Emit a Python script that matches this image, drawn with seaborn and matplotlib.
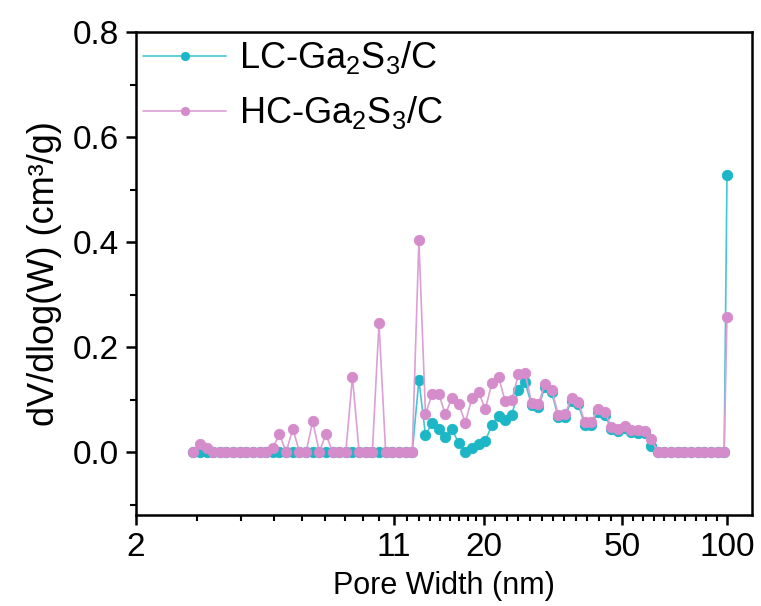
import numpy as np
import pandas as pd
import matplotlib
matplotlib.use("Agg")
import matplotlib.pyplot as plt
import seaborn as sns
from matplotlib.ticker import FixedLocator, FixedFormatter, NullFormatter

# ---------------- data ----------------
pore_width = [2.92, 3.05, 3.19, 3.33, 3.48, 3.64, 3.80, 3.97, 4.15, 4.34,
              4.53, 4.74, 4.95, 5.17, 5.40, 5.65, 5.90, 6.17, 6.44, 6.73,
              7.03, 7.35, 7.68, 8.02, 8.38, 8.76, 9.15, 9.56, 9.99, 10.44,
              10.91, 11.40, 11.92, 12.45, 13.01, 13.59, 14.21, 14.84, 15.50, 16.20,
              16.93, 17.69, 18.49, 19.32, 20.18, 21.09, 22.04, 23.03, 24.06, 25.14,
              26.27, 27.45, 28.69, 29.98, 31.32, 32.73, 34.20, 35.74, 37.34, 39.02,
              40.77, 42.60, 44.52, 46.51, 48.61, 50.79, 53.07, 55.46, 57.95, 60.56,
              63.28, 66.12, 69.09, 72.19, 75.43, 78.83, 82.37, 86.08, 89.93, 93.93,
              98.15, 100.0]

lc_values = [0, 0, 0, 0, 0, 0, 0, 0, 0, 0,
             0, 0, 0, 0, 0, 0, 0, 0, 0, 0,
             0, 0, 0, 0, 0, 0, 0, 0, 0, 0,
             0, 0, 0, 0, 0.137, 0.032, 0.056, 0.043, 0.029, 0.043,
             0.017, 0.000, 0.008, 0.015, 0.021, 0.051, 0.069, 0.061, 0.070, 0.119,
             0.133, 0.089, 0.086, 0.124, 0.114, 0.066, 0.067, 0.098, 0.091, 0.052,
             0.052, 0.077, 0.071, 0.044, 0.040, 0.046, 0.038, 0.037, 0.036, 0.012,
             0, 0, 0, 0, 0, 0, 0, 0, 0, 0,
             0, 0.527]

hc_values = [0, 0.015, 0.008, 0, 0, 0, 0, 0, 0, 0,
             0, 0, 0.008, 0.034, 0, 0.044, 0, 0, 0.059, 0,
             0.034, 0, 0, 0, 0.143, 0, 0, 0, 0.245, 0,
             0, 0, 0, 0, 0.403, 0.072, 0.111, 0.110, 0.072, 0.103,
             0.092, 0.056, 0.103, 0.115, 0.081, 0.131, 0.143, 0.097, 0.099, 0.148,
             0.150, 0.094, 0.091, 0.130, 0.119, 0.071, 0.072, 0.103, 0.096, 0.057,
             0.057, 0.082, 0.076, 0.048, 0.044, 0.050, 0.042, 0.041, 0.040, 0.025,
             0, 0, 0, 0, 0, 0, 0, 0, 0, 0,
             0, 0.258]

series_names = ["LC-Ga$_2$S$_3$/C", "HC-Ga$_2$S$_3$/C"]

x_major_ticks = [2, 11, 20, 50, 100]
x_major_labels = ["2", "11", "20", "50", "100"]
x_minor_ticks = [3, 4, 5, 6, 7, 8, 9, 10,
                 12, 13, 14, 15, 16, 17, 18, 19,
                 21.6, 23.3, 25.1, 27.1, 29.3, 31.6, 34.1, 36.8, 39.7, 42.9, 46.3,
                 53.6, 57.4, 61.6, 66.0, 70.7, 75.8, 81.2, 87.1, 93.3]
y_major_ticks = [0.0, 0.2, 0.4, 0.6, 0.8]
y_major_labels = ["0.0", "0.2", "0.4", "0.6", "0.8"]
y_minor_ticks = [-0.1, 0.1, 0.3, 0.5, 0.7]

# ---------------- style ----------------
sns.set_style("ticks")
plt.rcParams["font.family"] = ["Liberation Sans", "DejaVu Sans"]
plt.rcParams["mathtext.fontset"] = "custom"
plt.rcParams["mathtext.rm"] = "Liberation Sans"
plt.rcParams["mathtext.it"] = "Liberation Sans"
plt.rcParams["text.color"] = "black"
plt.rcParams["axes.labelcolor"] = "black"
plt.rcParams["xtick.color"] = "black"
plt.rcParams["ytick.color"] = "black"

lc_marker = "#1cb6c6"
lc_line = "#45c6d4"
hc_marker = "#d48ccb"
hc_line = "#dc9fd6"

fig = plt.figure(figsize=(7.61, 6.06), dpi=100)
ax = fig.add_axes([136 / 761, 1 - 515 / 606, (752 - 136) / 761, (515 - 32) / 606])

df = pd.DataFrame({
    "width": pore_width * 2,
    "value": lc_values + hc_values,
    "sample": [series_names[0]] * len(pore_width) + [series_names[1]] * len(pore_width),
})

for name, mcol, lcol in [(series_names[0], lc_marker, lc_line),
                         (series_names[1], hc_marker, hc_line)]:
    sub = df[df["sample"] == name]
    sns.lineplot(data=sub, x="width", y="value", ax=ax, sort=False, estimator=None,
                 color=lcol, linewidth=1.2, marker="o", markersize=7.5,
                 markerfacecolor=mcol, markeredgecolor=mcol, markeredgewidth=0.6,
                 label=name)

ax.set_xscale("log")
ax.set_xlim(2.0, 118)
ax.set_ylim(-0.12, 0.8)

ax.xaxis.set_major_locator(FixedLocator(x_major_ticks))
ax.xaxis.set_major_formatter(FixedFormatter(x_major_labels))
ax.xaxis.set_minor_locator(FixedLocator(x_minor_ticks))
ax.xaxis.set_minor_formatter(NullFormatter())
ax.yaxis.set_major_locator(FixedLocator(y_major_ticks))
ax.yaxis.set_major_formatter(FixedFormatter(y_major_labels))
ax.yaxis.set_minor_locator(FixedLocator(y_minor_ticks))

for s in ax.spines.values():
    s.set_visible(True)
    s.set_linewidth(1.8)
    s.set_color("black")

ax.tick_params(which="major", direction="out", length=7, width=1.8, labelsize=24,
               top=False, right=False, pad=5, colors="black")
ax.tick_params(which="minor", direction="out", length=4, width=1.5,
               top=False, right=False, colors="black")

ax.set_xlabel("Pore Width (nm)", fontsize=22, labelpad=6)
ax.set_ylabel("dV/dlog(W) (cm\u00b3/g)", fontsize=26, labelpad=8)

leg = ax.legend(loc="upper left", bbox_to_anchor=(0.0, 1.0), frameon=False,
                fontsize=26, handlelength=2.3, handletextpad=0.36,
                labelspacing=0.5, borderaxespad=0.1, borderpad=0.1)
for h in leg.legend_handles:
    h.set_markersize(6)

fig.savefig("out.png", dpi=100)
